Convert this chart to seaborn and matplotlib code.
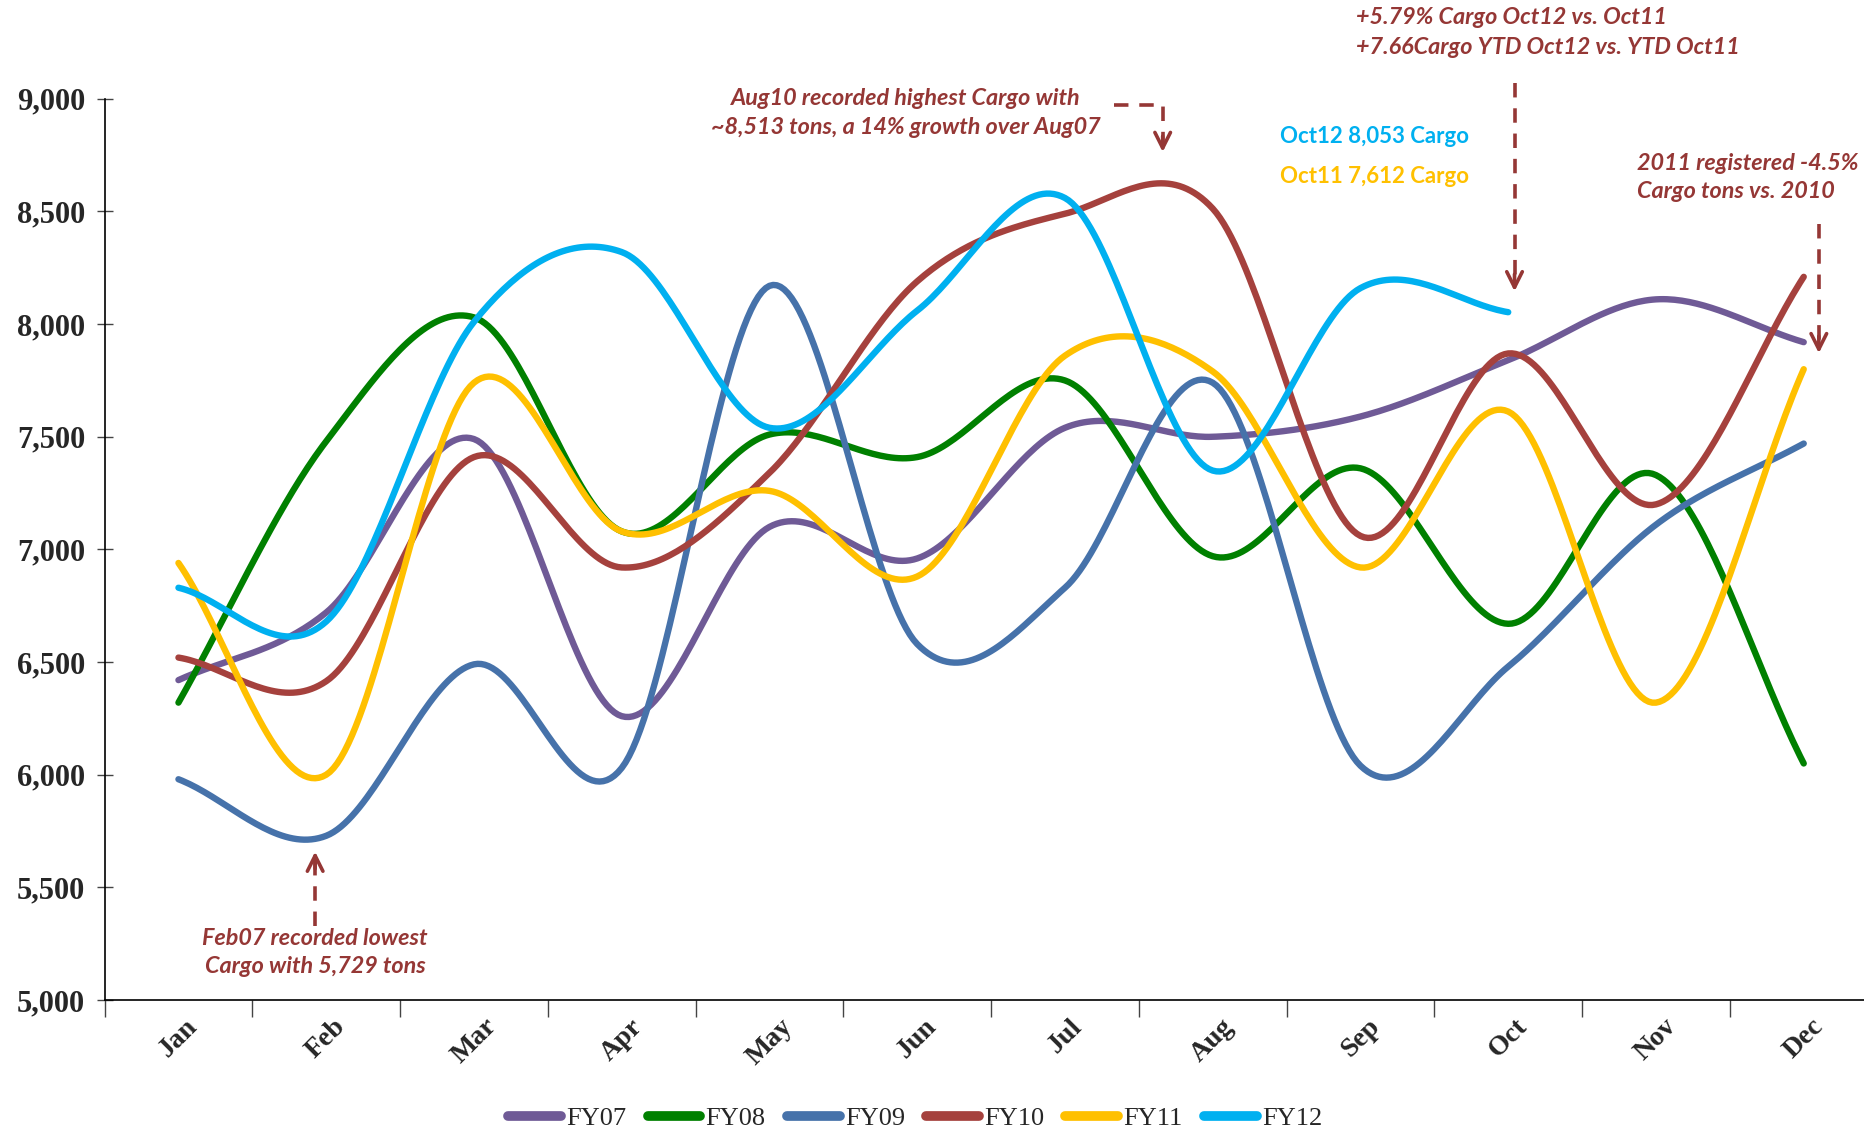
import numpy as np
import pandas as pd
import matplotlib
matplotlib.use("Agg")
import matplotlib.pyplot as plt
from matplotlib.lines import Line2D
import seaborn as sns

months = ["Jan", "Feb", "Mar", "Apr", "May", "Jun", "Jul", "Aug", "Sep", "Oct", "Nov", "Dec"]
fy07 = [6420, 6720, 7490, 6260, 7100, 6960, 7540, 7500, 7590, 7840, 8110, 7920]
fy08 = [6320, 7480, 8030, 7080, 7510, 7410, 7750, 6970, 7360, 6670, 7330, 6050]
fy09 = [5980, 5729, 6490, 6030, 8170, 6580, 6830, 7740, 6040, 6480, 7110, 7470]
fy10 = [6520, 6415, 7410, 6920, 7340, 8190, 8490, 8513, 7060, 7870, 7200, 8210]
fy11 = [6940, 6000, 7740, 7080, 7260, 6880, 7860, 7790, 6920, 7612, 6320, 7800]
fy12 = [6830, 6680, 8010, 8320, 7540, 8060, 8560, 7350, 8160, 8053]
series_names = ["FY07", "FY08", "FY09", "FY10", "FY11", "FY12"]
series_vals = [fy07, fy08, fy09, fy10, fy11, fy12]
colors = ["#6f5a96", "#008000", "#4672aa", "#a5413d", "#ffc000", "#00b0f0"]

dark_red = "#953735"


def smooth(vals, n=40):
    # hermite / catmull-rom style smoothing like excel's "smoothed line"
    y = np.asarray(vals, dtype=float)
    m = np.empty_like(y)
    m[1:-1] = (y[2:] - y[:-2]) / 2
    m[0] = y[1] - y[0]
    m[-1] = y[-1] - y[-2]
    xs, ys = [], []
    for i in range(len(y) - 1):
        t = np.linspace(0, 1, n, endpoint=False)
        h00 = 2 * t**3 - 3 * t**2 + 1
        h10 = t**3 - 2 * t**2 + t
        h01 = -2 * t**3 + 3 * t**2
        h11 = t**3 - t**2
        xs.append(i + t)
        ys.append(h00 * y[i] + h10 * m[i] + h01 * y[i + 1] + h11 * m[i + 1])
    xs.append([len(y) - 1])
    ys.append([y[-1]])
    return np.concatenate(xs), np.concatenate(ys)


frames = []
for name, vals in zip(series_names, series_vals):
    sx, sy = smooth(vals)
    frames.append(pd.DataFrame({"x": sx, "y": sy, "series": name}))
df = pd.concat(frames, ignore_index=True)

sns.set_style("white")
plt.rcParams["font.family"] = ["Liberation Serif", "DejaVu Serif"]

fig = plt.figure(figsize=(18.64, 11.31), dpi=100)
ax = fig.add_axes([0.0561, 0.1158, 0.9512, 0.7968])

sns.lineplot(data=df, x="x", y="y", hue="series", hue_order=series_names,
             palette=colors, sort=False, estimator=None, linewidth=4.6,
             solid_capstyle="round", legend=False, ax=ax)

ax.set_xlim(-0.5, 11.5)
ax.set_ylim(5000, 9000)
ax.set_xlabel("")
ax.set_ylabel("")
ax.set_yticks(np.arange(5000, 9001, 500))
ax.set_yticklabels([f"{v:,}" for v in range(5000, 9001, 500)],
                   fontsize=22, fontweight="bold")
ax.set_xticks(range(12))
ax.set_xticklabels(months, rotation=45, fontsize=20, fontweight="bold",
                   ha="center", va="top")
ax.set_xticks(np.arange(-0.5, 12, 1), minor=True)
ax.tick_params(axis="x", which="both", bottom=True)
ax.tick_params(axis="y", which="both", left=True)
ax.tick_params(axis="x", which="major", length=0, pad=10)
ax.tick_params(axis="x", which="minor", length=12, width=1, direction="out", color="#444444")
ax.tick_params(axis="y", which="major", length=12, width=1, direction="inout", pad=8,
               color="#444444")
for s in ["top", "right"]:
    ax.spines[s].set_visible(False)
for s in ["left", "bottom"]:
    ax.spines[s].set_color("black")
    ax.spines[s].set_linewidth(1.2)

# annotations
afont = dict(family=["Lato", "DejaVu Sans"], fontweight="bold", fontstyle="italic",
             fontsize=16.8, color=dark_red)


def fx(px):
    return px / 1568


def fy(py):
    return 1 - py / 950


fig.text(fx(762), fy(83), "Aug10 recorded highest Cargo with", ha="center", va="center", **afont)
fig.text(fx(762), fy(107), "~8,513 tons, a 14% growth over Aug07", ha="center", va="center", **afont)
fig.text(fx(1141), fy(15), "+5.79% Cargo Oct12 vs. Oct11", ha="left", va="center", **afont)
fig.text(fx(1141), fy(40), "+7.66Cargo YTD Oct12 vs. YTD Oct11", ha="left", va="center", **afont)
fig.text(fx(1377), fy(137), "2011 registered -4.5%", ha="left", va="center", **afont)
fig.text(fx(1377), fy(161), "Cargo tons vs. 2010", ha="left", va="center", **afont)
fig.text(fx(265), fy(788), "Feb07 recorded lowest", ha="center", va="center", **afont)
fig.text(fx(265), fy(812), "Cargo with 5,729 tons", ha="center", va="center", **afont)

bfont = dict(family=["Lato", "DejaVu Sans"], fontweight="bold", fontsize=16)
fig.text(fx(1077), fy(115), "Oct12 8,053 Cargo", ha="left", va="center", color="#00b0f0", **bfont)
fig.text(fx(1077), fy(148), "Oct11 7,612 Cargo", ha="left", va="center", color="#ffc000", **bfont)


def to_data(px, py):
    return (px - 150) / 124.3, 5000 + (840 - py) * 5.284


dash = dict(color=dark_red, lw=2.6, linestyle=(0, (4, 3)), clip_on=False)
arrow = dict(arrowstyle="->", color=dark_red, lw=2.6, mutation_scale=28)

# Aug arrow: right then down
p1, p2, p3 = to_data(937, 88), to_data(978, 88), to_data(978, 122)
ax.plot([p1[0], p2[0], p3[0]], [p1[1], p2[1], p3[1]], **dash)
ax.annotate("", xy=to_data(978, 130), xytext=to_data(978, 112), arrowprops=arrow,
            annotation_clip=False)

# Oct arrow
a, b = to_data(1274, 70), to_data(1274, 238)
ax.plot([a[0], b[0]], [a[1], b[1]], **dash)
ax.annotate("", xy=to_data(1274, 247), xytext=to_data(1274, 228), arrowprops=arrow,
            annotation_clip=False)

# Dec arrow
a, b = to_data(1530, 188), to_data(1530, 290)
ax.plot([a[0], b[0]], [a[1], b[1]], **dash)
ax.annotate("", xy=to_data(1530, 299), xytext=to_data(1530, 280), arrowprops=arrow,
            annotation_clip=False)

# Feb arrow (upwards)
a, b = to_data(265, 778), to_data(265, 722)
ax.plot([a[0], b[0]], [a[1], b[1]], **dash)
ax.annotate("", xy=to_data(265, 713), xytext=to_data(265, 732), arrowprops=arrow,
            annotation_clip=False)

handles = [Line2D([0], [0], color=c, lw=7, solid_capstyle="round") for c in colors]
fig.legend(handles, series_names, loc="lower center", bbox_to_anchor=(0.491, -0.02),
           ncol=6, frameon=False, fontsize=19, handlelength=2.0, handletextpad=0.2,
           columnspacing=0.8)

fig.savefig("out.png", dpi=100)
